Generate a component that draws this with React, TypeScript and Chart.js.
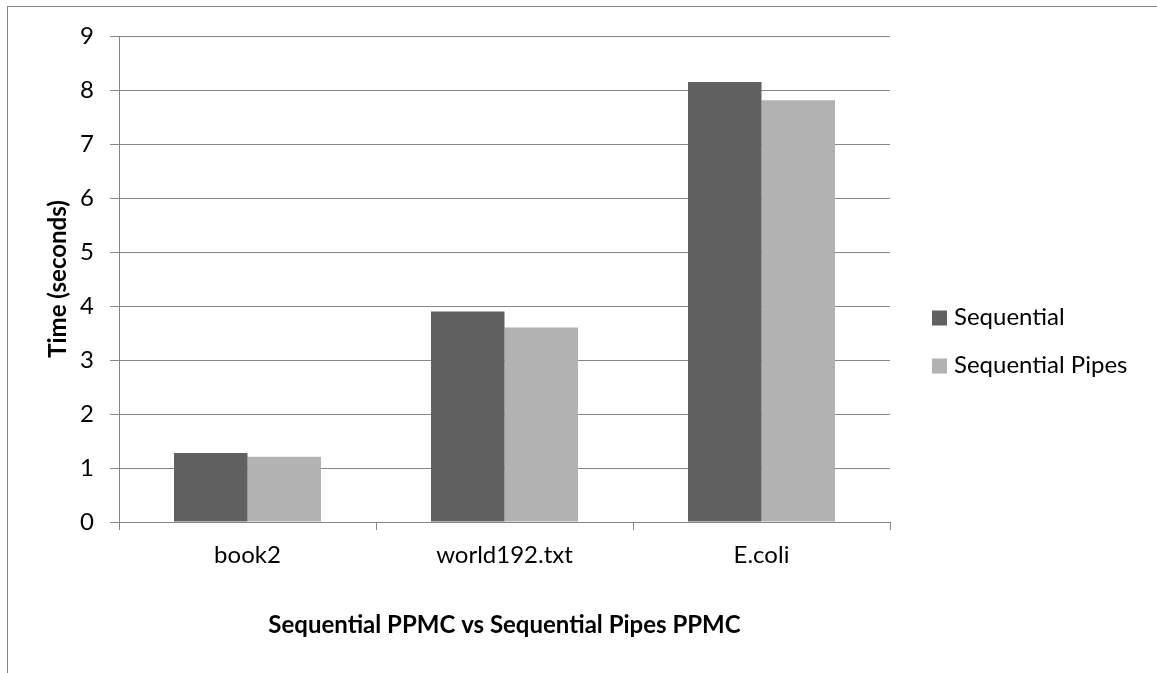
import React, { useEffect, useRef } from "react";
import { Chart, registerables } from "chart.js";

Chart.register(...registerables);

const categories = ["book2", "world192.txt", "E.coli"];
const seriesNames = ["Sequential", "Sequential Pipes"];
const sequential = [1.28, 3.9, 8.15];
const sequentialPipes = [1.21, 3.6, 7.81];
const seriesColors = ["#616161", "#b2b2b2"];
const yTicks = [0, 1, 2, 3, 4, 5, 6, 7, 8, 9];
const xTitle = "Sequential PPMC vs Sequential Pipes PPMC";
const yTitle = "Time (seconds)";

const FONT = "Lato";
const FS = 24;
const GRID = "#868686";

const legendPlugin = {
  id: "sideLegend",
  afterDraw(chart: any) {
    const ctx = chart.ctx;
    ctx.save();
    ctx.font = `${FS}px ${FONT}`;
    ctx.textBaseline = "middle";
    ctx.textAlign = "left";
    chart.data.datasets.forEach((ds: any, i: number) => {
      const cy = 318 + i * 48;
      ctx.fillStyle = ds.backgroundColor;
      ctx.fillRect(932, cy - 7.5, 15, 15);
      ctx.fillStyle = "#000";
      ctx.fillText(ds.label, 954, cy - 1);
    });
    ctx.restore();
  },
};

export default function App() {
  const ref = useRef<HTMLCanvasElement>(null);
  useEffect(() => {
    if (!ref.current) return;
    Chart.defaults.font.family = FONT;
    Chart.defaults.color = "#000";
    const chart = new Chart(ref.current, {
      type: "bar",
      data: {
        labels: categories,
        datasets: [
          { label: seriesNames[0], data: sequential, backgroundColor: seriesColors[0] },
          { label: seriesNames[1], data: sequentialPipes, backgroundColor: seriesColors[1] },
        ],
      },
      options: {
        animation: false,
        responsive: false,
        devicePixelRatio: 1,
        layout: { padding: { left: 0, top: 36, right: 267, bottom: 0 } },
        plugins: { legend: { display: false }, tooltip: { enabled: false } },
        datasets: { bar: { categoryPercentage: 0.572, barPercentage: 1 } },
        scales: {
          x: {
            offset: true,
            grid: { display: true, drawOnChartArea: false, drawTicks: true, tickLength: 8, color: GRID, lineWidth: 1 },
            border: { display: true, color: GRID, width: 1 },
            ticks: { font: { size: FS }, padding: 11, color: "#000", maxRotation: 0 },
            title: { display: true, text: xTitle, font: { size: FS, weight: "bold" }, padding: { top: 0, bottom: 33 }, color: "#000" },
            afterFit(scale: any) { scale.height = 151; },
          },
          y: {
            min: 0,
            max: 9,
            afterBuildTicks(scale: any) { scale.ticks = yTicks.map((v) => ({ value: v })); },
            grid: { color: GRID, lineWidth: 1, drawTicks: true, tickLength: 9 },
            border: { display: true, color: GRID, width: 1 },
            ticks: { font: { size: FS }, padding: 16, color: "#000" },
            title: { display: true, text: yTitle, font: { size: FS, weight: "bold" }, padding: { top: 44, bottom: 0 }, color: "#000" },
            afterFit(scale: any) { scale.width = 119; },
          },
        },
      },
      plugins: [legendPlugin],
    } as any);
    return () => chart.destroy();
  }, []);
  return (
    <div style={{ position: "fixed", left: 0, top: 0, width: 1157, height: 673, overflow: "hidden", background: "#fff" }}>
      <div style={{ position: "absolute", left: 7, top: 6, width: 1300, height: 900, border: `1px solid ${GRID}`, boxSizing: "border-box" }} />
      <canvas ref={ref} width={1157} height={673} style={{ position: "absolute", left: 0, top: 0, display: "block" }} />
    </div>
  );
}
